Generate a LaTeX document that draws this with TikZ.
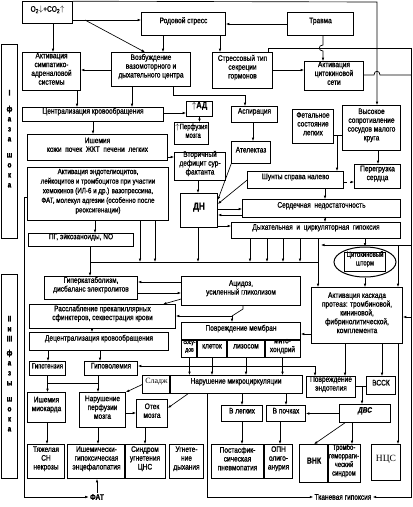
\documentclass[tikz,border=0pt]{standalone}
\usepackage{fontspec}
\setmainfont{Liberation Sans}[FakeStretch=0.82,FakeBold=1]
\newfontfamily\narrow{Liberation Sans}[FakeStretch=0.76,FakeBold=1]
\newfontfamily\serifcyr{Liberation Serif}
\usepackage{tikz}
\usetikzlibrary{shapes.geometric}
\usetikzlibrary{arrows.meta}
\usetikzlibrary{fit,calc}

\tikzset{
  box/.style={draw, line width=1pt, inner sep=0.3pt, align=center, font=\fontsize{8}{8.8}\selectfont},
  lbox/.style={box, align=left},
  small/.style={font=\narrow\fontsize{7.8}{8.6}\selectfont},
  lbl/.style={inner sep=1pt, font=\fontsize{8}{9}\selectfont\bfseries},
  >={Latex[length=3.5pt,width=2.6pt]},
}

\begin{document}
\begin{tikzpicture}[x=1pt,y=-1pt,line width=0.65pt]
\path[use as bounding box, fill=white] (0,0) rectangle (413,507);

% phase I
\node[box, fit={(23,2) (72,23)}] (o2) {O\textsubscript{2}$\downarrow$+CO\textsubscript{2}$\uparrow$};
\node[box, fit={(142,13) (225,35)}] (rod) {Родовой стресс};
\node[box, fit={(288,13) (353,35)}] (trauma) {Травма};
\node[lbox, fit={(23,53) (80,90)}] (sympat) {Активация\\симпатико-\\адреналовой\\системы};
\node[lbox, fit={(112,53) (190,86)}] (excit) {Возбуждение\\вазомоторного и\\дыхательного центра};
\node[box, fit={(213,53) (272,88)}] (stress) {Стрессовый тип\\секреции\\гормонов};
\node[box, fit={(305,62) (363,90)}] (cytnet) {Активация\\цитокиновой\\сети};
\node[box, fit={(23,108) (163,121)}] (central) {Централизация кровообращения};
\node[box, fit={(187,102) (212,116)}, font=\fontsize{9}{9}\selectfont\bfseries] (ad) {$\uparrow$АД};
\node[lbox, fit={(175,123) (208,144)}, small] (perf) {$\uparrow$Перфузия\\\ \ мозга};
\node[box, fit={(232,107) (277,122)}] (aspir) {Аспирация};
\node[box, fit={(293,110) (333,143)}] (fetal) {Фетальное\\состояние\\легких};
\node[lbox, fit={(343,106) (400,150)}] (resist) {Высокое\\сопротивление\\сосудов малого\\круга};
\node[box, fit={(28,135) (167,160)}] (isch) {Ишемия\\кожи \ почек \ ЖКТ \ печени \ легких};
\node[lbox, fit={(175,153) (225,180)}] (surf) {Вторичный\\дефицит сур-\\фактанта};
\node[box, fit={(232,142) (270,163)}] (atel) {Ателектаз};
\node[box, fit={(248,172) (343,188)}] (shunt) {Шунты справа налево};
\node[box, fit={(355,165) (400,188)}] (overl) {Перегрузка\\сердца};
\node[lbox, fit={(28,168) (168,220)}, font=\fontsize{7.6}{9.6}\selectfont] (endo) {Активация эндотелиоцитов,\\лейкоцитов и тромбоцитов при участии\\хемокинов (ИЛ-6 и др.) вазопрессина,\\ФАТ, молекул адгезии (особенно после\\реоксигенации)};
\node[box, fit={(181,194) (217,227)}, font=\fontsize{10}{10}\selectfont\bfseries] (dn) {ДН};
\node[box, fit={(243,200) (400,217)}] (heart) {Сердечная \ недостаточность};
\node[box, fit={(232,223) (400,238)}] (hypox) {Дыхательная \ и \ циркуляторная \ гипоксия};
\node[box, fit={(29,234) (133,246)}] (pg) {ПГ, эйкозаноиды, NO};

% phases II and III
\node[lbox, fit={(45,277) (137,299)}] (hyper) {Гиперкатаболизм,\\дисбаланс электролитов};
\node[box, fit={(182,277) (300,305)}] (acid) {Ацидоз,\\усиленный гликолизом};
\node[draw, ellipse, line width=1pt, minimum width=62, minimum height=30] (storm) at (365,262) {};
\node[box, fit={(345,253) (385,271)}, small] (stormtxt) {Цитокиновый\\шторм};
\node[lbox, fit={(312,288) (402,343)}] (casc) {Активация каскада\\протеаз: тромбиновой,\\кининовой,\\фибринолитической,\\комплемента};
\node[box, fit={(30,305) (175,328)}] (relax) {Расслабление прекапиллярных\\сфинктеров, секвестрация крови};
\node[box, fit={(182,323) (300,340)}] (memb) {Повреждение мембран};
\node[box, fit={(182,340) (197,357)}, font=\narrow\fontsize{6.6}{7.6}\selectfont] (ves) {сосу-\\дов};
\node[box, fit={(197,340) (227,357)}] (cellk) {клеток};
\node[box, fit={(227,340) (265,357)}] (lys) {лизосом};
\node[box, fit={(265,340) (300,357)}] (mito) {мито-\\хондрий};
\node[box, fit={(30,333) (168,350)}] (decent) {Децентрализация кровообращения};
\node[box, fit={(30,362) (65,375)}, small] (hypot) {Гипотензия};
\node[box, fit={(85,362) (137,375)}] (hypov) {Гиповолемия};
\node[box, fit={(143,376) (170,393)}, font=\serifcyr\fontsize{8}{8}\selectfont] (sludge) {Сладж};
\node[box, fit={(170,376) (302,393)}] (micro) {Нарушение микроциркуляции};
\node[box, fit={(28,393) (65,422)}] (myoc) {Ишемия\\миокарда};
\node[lbox, fit={(80,393) (125,427)}] (brainp) {Нарушение\\перфузии\\мозга};
\node[box, fit={(137,400) (167,427)}] (edema) {Отек\\мозга};
\node[box, fit={(28,445) (64,478)}] (sevhf) {Тяжелая\\СН\\некрозы};
\node[box, fit={(68,445) (125,478)}] (enceph) {Ишемически-\\гипоксическая\\энцефалопатия};
\node[box, fit={(125,445) (165,478)}] (cns) {Синдром\\угнетения\\ЦНС};
\node[lbox, fit={(170,445) (203,478)}] (resp) {Угнете-\\ние\\дыхания};
\node[lbl] (fat) at (97,497) {ФАТ};
\node[box, fit={(222,406) (262,421)}] (lung) {В легких};
\node[box, fit={(267,406) (305,421)}] (kidney) {В почках};
\node[lbox, fit={(307,377) (355,397)}] (endoth) {Повреждение\\эндотелия};
\node[box, fit={(367,377) (395,394)}] (vssk) {ВССК};
\node[box, fit={(340,405) (390,422)}, font=\fontsize{8}{8}\selectfont\bfseries\itshape] (dic) {ДВС};
\node[lbox, fit={(212,445) (263,478)}] (pneum) {Постасфик-\\сическая\\пневмопатия};
\node[lbox, fit={(265,445) (292,478)}] (opn) {ОПН\\олиго-\\анурия};
\node[box, fit={(300,445) (328,482)}, font=\fontsize{8.5}{9}\selectfont\bfseries] (vnk) {ВНК};
\node[lbox, fit={(328,445) (360,482)}, small] (thromb) {Тромбо-\\геморраги-\\ческий\\синдром};
\node[box, fit={(372,445) (400,480)}, font=\serifcyr\fontsize{9.5}{10}\selectfont] (ncs) {НЦС};
\node[lbl, font=\fontsize{8}{9}\selectfont] (tissue) at (343,497) {Тканевая гипоксия};

% phase labels
\node[box, fit={(2,45) (17,238)}, font=\fontsize{8}{10}\selectfont\bfseries] (phaseI) {I\\[6pt]ф\\а\\з\\а\\[6pt]ш\\о\\к\\а};
\node[box, fit={(2,275) (17,478)}, font=\fontsize{8}{10}\selectfont\bfseries] (phaseII) {II\\и\\III\\[4pt]ф\\а\\з\\ы\\[6pt]ш\\о\\к\\а};

% top links
\draw[->] (o2.south -| 53,0) -- (sympat.north -| 53,0);
\draw[->] (o2.east |- 0,20) -- (rod.west |- 0,20);
\coordinate (o2j) at (85,20);
\draw[->] (o2j) -- (excit.north -| 145,0);
\draw[->] (o2.north east) -- (377,2) -- (resist.north -| 377,0);
\draw[->] (rod.south -| 163,0) -- (excit.north -| 163,0);
\draw[->] (rod.south -| 220,0) -- (stress.north -| 220,0);
\draw[->] (trauma.west) -- (rod.east);
\draw[->] (trauma.south -| 323,0) -- (323,45) .. controls (318,45) and (318,51) .. (323,51) -- (cytnet.north -| 323,0);
\draw[->] (stress.east |- 0,70) -- (cytnet.west |- 0,70);
\draw[->] (stress.north -| 268,0) -- (268,48) -- (411,48) -- (tissue.east -| 411,0) -- (tissue.east);
\draw (cytnet.east |- 0,75) -- (374,75) .. controls (374,70) and (380,70) .. (380,75) -- (411,75);
\draw[->] (sympat.south -| 77,0) -- (central.north -| 77,0);
\draw[->] (excit.west |- 0,70) -- (sympat.east |- 0,70);
\draw[->] (excit.south -| 132,0) -- (central.north -| 132,0);
\draw[->] (excit.south -| 173,0) |- (245,95) -- (aspir.north -| 245,0);
\draw[->] (central.east |- 0,113) -- (ad.west |- 0,113);
\draw[->] (ad.south) -- (perf.north -| ad.south);
\draw[->] (central.south -| 93,0) -- (isch.north -| 93,0);
\draw[->] (isch.east |- 0,157) -- (surf.west |- 0,157);
\draw[->] (aspir.south -| 253,0) -- (atel.north -| 253,0);
\draw[->] (atel.south west) -- (dn.east |- 0,200);
\draw[->] (shunt.west |- 0,180) -- (dn.east |- 0,204);
\draw[->] (surf.south -| 198,0) -- (dn.north -| 198,0);
\draw[->] (dn.east |- 0,209) -- (heart.west |- 0,209);
\draw[->] (heart.west |- 0,215) -- (dn.east |- 0,215);
\draw[->] (dn.east |- 0,226) -- (hypox.west |- 0,226);
\draw[->] (shunt.south -| 325,0) -- (heart.north -| 325,0);
\draw[->, dashed] (shunt.east |- 0,182) -- (overl.west |- 0,182);
\coordinate (fj) at (337,135);
\draw (fetal.east |- fj) -- (fj);
\draw (resist.west |- fj) -- (fj);
\draw[->] (fj) -- (shunt.north -| fj);
\draw[->] (resist.south -| 378,0) -- (overl.north -| 378,0);
\draw[->] (heart.south -| 325,0) -- (hypox.north -| 325,0);

% collector
\draw[->] (endo.south -| 95,0) -- (pg.north -| 95,0);
\draw[->] (endo.west |- 0,197) -| (24,497) -- (fat.west);
\draw[->] (fat.north) -- (enceph.south -| fat.north);
\coordinate (busL) at (90,262);
\coordinate (busR) at (318,262);
\draw (pg.south -| busL) -- (busL) -- (busR);
\draw[->] (busL) -- (hyper.north -| busL);
\foreach \x in {140,155} \draw[->] (endo.south -| \x,0) -- (\x,262);
\draw[->] (dn.south -| 198,0) -- (198,262);
\foreach \x in {250,267,283,300} \draw[->] (hypox.south -| \x,0) -- (\x,262);
\draw[->] (hypox.south -| busR) -- (casc.north -| busR);
\draw[->] (hypox.south -| storm.north) -- (storm.north);
\draw[->] (storm.south) -- (casc.north -| storm.south);
\draw[->] (411,245) -- (321,245);
\draw[->] (398,245) -- (casc.north -| 398,0);
\draw[->] (411,317) -- (casc.east |- 0,317);

% lower links
\draw[->] (acid.west |- 0,282) -- (hyper.east |- 0,282);
\draw[->] (hyper.east |- 0,293) -- (acid.west |- 0,293);
\draw[->] (acid.west |- 0,299) -- (relax.north -| 163,0);
\draw (acid.south -| 243,0) -- (243,309) -- (232,316);
\draw[->] (232,316) -- (memb.north -| 232,0);
\draw[->] (232,316) -- (relax.east |- 0,316);
\draw[->] (casc.west |- 0,334) -- (memb.east |- 0,334);
\draw[->] (relax.south -| 92,0) -- (decent.north -| 92,0);
\draw[->] (decent.south -| 48,0) -- (hypot.north -| 48,0);
\draw[->] (decent.south -| 100,0) -- (hypov.north -| 100,0);
\foreach \c in {ves,cellk,lys,mito} \draw[->] (\c.south) -- (micro.north -| \c.south);
\draw (ves.south |- 0,366) -- (315,366);
\draw[->] (ves.south |- 0,366) -- (hypov.east |- 0,366);
\draw[->] (315,366) -- (endoth.north -| 315,0);
\draw[->] (casc.south -| 345,0) -- (endoth.north -| 345,0);
\draw[->] (casc.south -| 382,0) -- (vssk.north -| 382,0);
\draw[->] (casc.south -| 398,0) -- (ncs.north -| 398,0);
\coordinate (hj) at (98,383);
\draw (hypot.south) -- (hypot.south |- hj) -- (hj);
\draw (hypov.south -| hj) -- (hj);
\draw[->] (hypot.south |- hj) -- (myoc.north -| hypot.south);
\draw[->] (hj) -- (brainp.north -| hj);
\draw[->] (myoc.south -| 47,0) -- (sevhf.north -| 47,0);
\draw[->] (brainp.south -| 98,0) -- (enceph.north -| 98,0);
\draw[->] (edema.south -| 145,0) -- (cns.north -| 145,0);
\draw[->] (sludge.west) -- (brainp.north east);
\draw[->] (micro.south -| 188,0) -- (edema.east |- 0,408);
\draw[->] (brainp.east |- 0,413) -- (edema.west |- 0,413);
\draw[->] (micro.south -| 242,0) -- (lung.north -| 242,0);
\draw[->] (micro.south -| 286,0) -- (kidney.north -| 286,0);
\draw[->] (micro.south -| 207,0) -- (tissue.west -| 207,0) -- (tissue.west);
\draw[->] (lung.south -| 242,0) -- (pneum.north -| 242,0);
\draw[->] (kidney.south -| 280,0) -- (opn.north -| 280,0);
\draw[->] (dic.west) -- (kidney.east |- dic.west);
\coordinate (dj) at (362,386);
\draw (endoth.east |- dj) -- (dj);
\draw (vssk.west |- dj) -- (dj);
\draw[->] (dj) -- (dic.north -| dj);
\draw[->] (dic.south -| 345,0) -- (vnk.north);
\draw[->] (dic.south -| 352,0) -- (thromb.north -| 352,0);
\end{tikzpicture}
\end{document}
